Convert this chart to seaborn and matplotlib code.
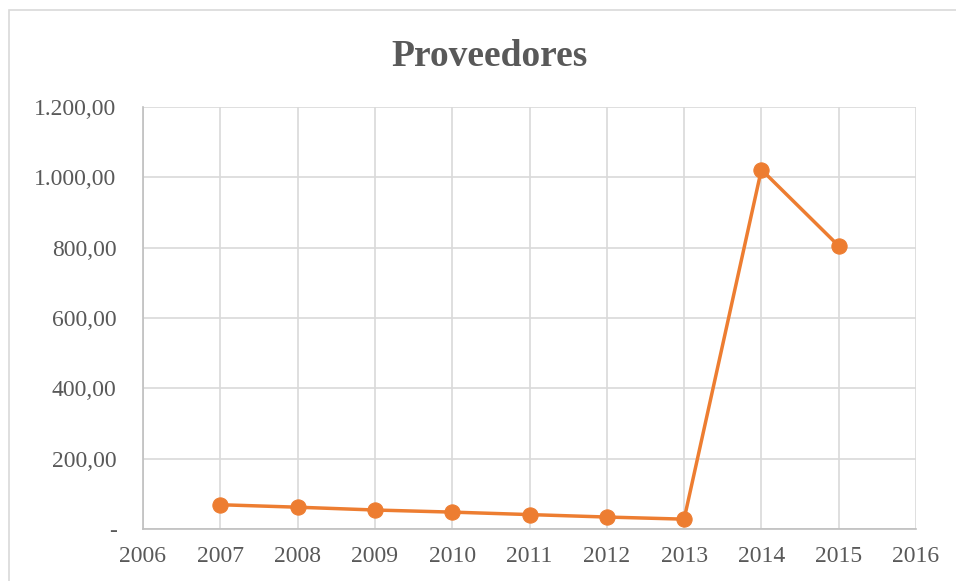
import matplotlib
matplotlib.use("Agg")
import matplotlib.pyplot as plt
import matplotlib.ticker as mticker
from matplotlib.patches import Rectangle
import seaborn as sns
import pandas as pd

# Supplier balances per year
years = [2007, 2008, 2009, 2010, 2011, 2012, 2013, 2014, 2015]
proveedores = [69, 62, 54, 48, 41, 34, 28, 1022, 805]

x_ticks = list(range(2006, 2017))
y_ticks = [0, 200, 400, 600, 800, 1000, 1200]

sns.set_theme(style="white")
plt.rcParams["font.family"] = ["Liberation Serif", "DejaVu Serif"]

TEXT = "#595959"
GRID = "#D9D9D9"
ORANGE = "#ED7D31"

df = pd.DataFrame({"Año": years, "Proveedores": proveedores})

fig = plt.figure(figsize=(9.56, 5.81), dpi=100)
ax = fig.add_axes([143 / 956, 52 / 581, (916 - 143) / 956, (529 - 107) / 581])

sns.lineplot(data=df, x="Año", y="Proveedores", ax=ax, color=ORANGE,
             linewidth=2.5, marker="o", markersize=11,
             markeredgecolor=ORANGE, markerfacecolor=ORANGE, zorder=3)

ax.set_xlim(2006, 2016)
ax.set_ylim(0, 1200)
ax.set_xticks(x_ticks)
ax.set_yticks(y_ticks)


def es_format(v, pos):
    if abs(v) < 1e-9:
        return "-"
    s = f"{v:,.2f}"
    return s.replace(",", "X").replace(".", ",").replace("X", ".")


ax.yaxis.set_major_formatter(mticker.FuncFormatter(es_format))
ax.xaxis.set_major_formatter(mticker.FuncFormatter(lambda v, p: f"{int(v)}"))

ax.grid(True, color=GRID, linewidth=1.2)
ax.set_axisbelow(True)
for side in ["top", "right"]:
    ax.spines[side].set_visible(False)
for side in ["left", "bottom"]:
    ax.spines[side].set_color("#BFBFBF")
    ax.spines[side].set_linewidth(1.2)

ax.tick_params(axis="both", length=0, labelsize=17, colors=TEXT)
ax.tick_params(axis="y", pad=19)
ax.tick_params(axis="x", pad=12)
ax.set_xlabel("")
ax.set_ylabel("")

fig.text(489 / 956, 1 - 57 / 581, "Proveedores", ha="center", va="center",
         fontsize=27, fontweight="bold", color=TEXT)

# Chart-area frame
fig.patches.append(Rectangle((8.5 / 956, -0.05), 1.2, 1 - 10.5 / 581 + 0.05,
                             transform=fig.transFigure, fill=False,
                             edgecolor=GRID, linewidth=1.2))

fig.savefig("out.png", dpi=100)
